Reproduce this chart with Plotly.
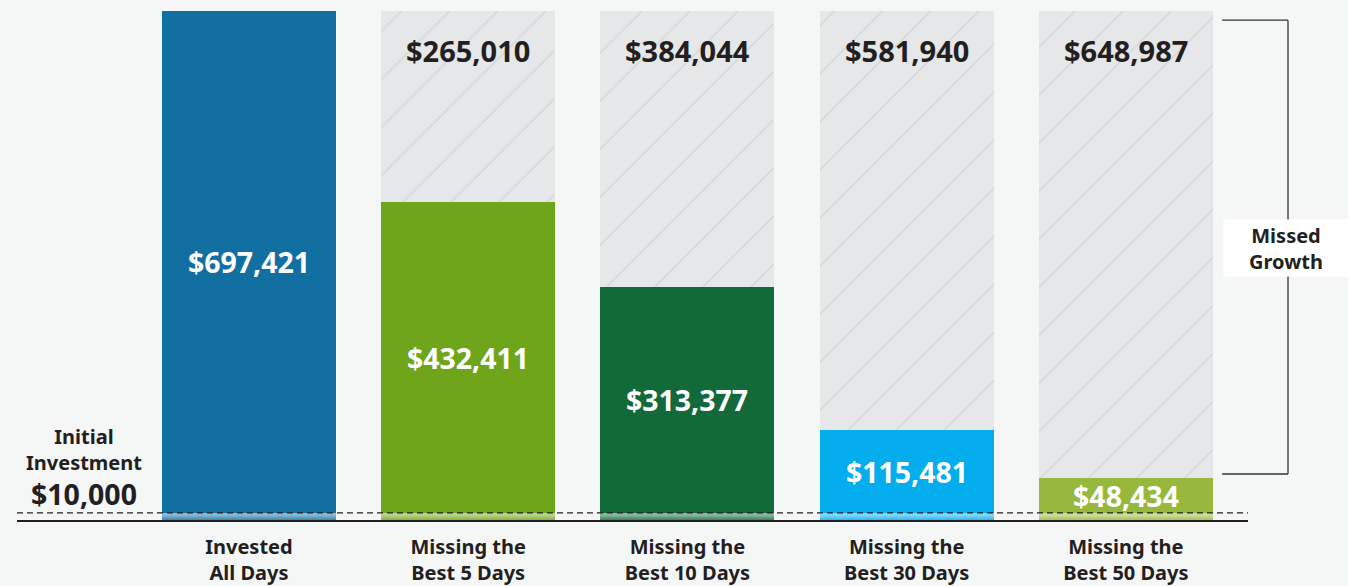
import plotly.graph_objects as go

# ---- data ----
categories = ["Invested<br>All Days", "Missing the<br>Best 5 Days", "Missing the<br>Best 10 Days",
              "Missing the<br>Best 30 Days", "Missing the<br>Best 50 Days"]
ending_values = [697421, 432411, 313377, 115481, 48434]
initial_investment = 10000
bar_colors = ["#126fa1", "#6fa51b", "#126a3a", "#03adee", "#98b83d"]

# ---- derived ----
total = max(ending_values)
missed = [total - v for v in ending_values]
xs = list(range(len(categories)))

FONT = "Noto Sans"
DARK = "#231f20"
BG = "#f5f6f6"


def blend(hex_color, white_frac):
    h = hex_color.lstrip("#")
    r, g, b = (int(h[i:i + 2], 16) for i in (0, 2, 4))
    r = round(r + (255 - r) * white_frac)
    g = round(g + (255 - g) * white_frac)
    b = round(b + (255 - b) * white_frac)
    return f"rgb({r},{g},{b})"


fig = go.Figure()

# gradient band below the initial-investment line (stacked thin slices)
n_slices = 6
for k in range(n_slices):
    frac = (k + 0.5) / n_slices
    fig.add_trace(go.Bar(
        x=xs, y=[initial_investment / n_slices] * len(xs),
        base=[initial_investment * k / n_slices] * len(xs),
        marker=dict(color=[blend(c, 0.15 + 0.45 * frac) for c in bar_colors], line=dict(width=0)),
        width=0.794, hoverinfo="skip", showlegend=False,
    ))

# main value bars
fig.add_trace(go.Bar(
    x=xs, y=ending_values, base=[initial_investment] * len(xs),
    marker=dict(color=bar_colors, line=dict(width=0)),
    width=0.794,
    text=[f"${v:,}" for v in ending_values],
    textposition="inside", insidetextanchor="middle", textangle=0,
    textfont=dict(family=FONT, size=28.5, color="white", weight=700),
    hoverinfo="skip", showlegend=False,
))

# missed growth (hatched)
fig.add_trace(go.Bar(
    x=xs, y=missed, base=[initial_investment + v for v in ending_values],
    marker=dict(color="#e6e7e8", line=dict(width=0),
                pattern=dict(shape="/", fgcolor="#c9cacc", bgcolor="#e6e7e8", size=34, solidity=0.05)),
    width=0.794, hoverinfo="skip", showlegend=False,
))

# missed growth labels
for x, m in zip(xs, missed):
    if m > 0:
        fig.add_annotation(x=x, y=initial_investment + total, yshift=-39, text=f"${m:,}",
                           xanchor="center", yanchor="middle",
                           showarrow=False, font=dict(family=FONT, size=29, color=DARK, weight=700))

# initial investment dashed line
fig.add_shape(type="line", xref="paper", x0=0, x1=1, yref="y", y0=initial_investment, y1=initial_investment,
              line=dict(color=DARK, width=1.2, dash="6px,4px"), layer="above")

# left label
fig.add_annotation(xref="paper", yref="paper", x=0.0544, y=0.1385, text="Initial<br>Investment",
                   xanchor="center", yanchor="middle",
                   showarrow=False, font=dict(family=FONT, size=20, color=DARK, weight=700))
fig.add_annotation(xref="paper", yref="paper", x=0.0544, y=0.051, text=f"${initial_investment:,}",
                   xanchor="center", yanchor="middle",
                   showarrow=False, font=dict(family=FONT, size=28.5, color=DARK, weight=700))

# bracket on right
bx0, bx1, by0, by1 = 0.979, 1.0325, 0.0904, 0.982
for s in [dict(x0=bx0, x1=bx1, y0=by1, y1=by1), dict(x0=bx1, x1=bx1, y0=by0, y1=by1),
          dict(x0=bx0, x1=bx1, y0=by0, y1=by0)]:
    fig.add_shape(type="line", xref="paper", yref="paper", line=dict(color="#333333", width=1.3), **s)
fig.add_annotation(xref="paper", yref="paper", x=1.0305, y=0.534, text="Missed<br>Growth",
                   xanchor="center", yanchor="middle",
                   showarrow=False, bgcolor="white", width=122, height=54,
                   font=dict(family=FONT, size=20, color=DARK, weight=700))

fig.update_layout(
    width=1348, height=586,
    margin=dict(l=17, r=100, t=11, b=66, autoexpand=False),
    paper_bgcolor=BG, plot_bgcolor=BG,
    barmode="overlay", bargap=0,
    hovermode=False,
    uniformtext=dict(minsize=28, mode="show"),
    xaxis=dict(range=[-1.058, 4.557], tickvals=xs, ticktext=categories, automargin=False,
               tickfont=dict(family=FONT, size=20, color=DARK, weight=700),
               showgrid=False, zeroline=False, showline=True, linecolor=DARK, linewidth=1.5,
               ticks="outside", ticklen=8, tickcolor="rgba(0,0,0,0)", fixedrange=True),
    yaxis=dict(range=[0, initial_investment + total], visible=False, showgrid=False, zeroline=False,
               automargin=False, fixedrange=True),
)

fig.write_html("out.html", config={"displayModeBar": False},
               post_script="document.body.style.margin='0';document.body.style.background='" + BG + "';")
